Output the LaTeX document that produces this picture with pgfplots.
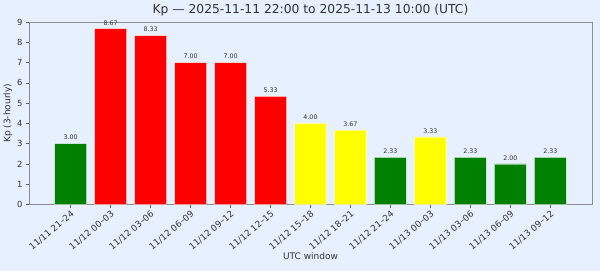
\documentclass[border=0pt]{standalone}
\usepackage{fontspec}
\setmainfont{DejaVu Sans}
\usepackage{pgfplots}
\pgfplotsset{compat=1.18}
\definecolor{bg}{RGB}{230,240,254}
\definecolor{txt}{RGB}{51,51,51}
\definecolor{kgreen}{RGB}{0,128,0}
\definecolor{kred}{RGB}{255,0,0}
\definecolor{kyellow}{RGB}{255,255,0}
\begin{document}
\begin{tikzpicture}
\fill[bg] (-29pt,-66.5pt) rectangle (571pt,204.5pt);
\path[use as bounding box] (-29pt,-66.5pt) rectangle (571pt,204.5pt);
\begin{axis}[
  scale only axis,
  width=563pt, height=182.5pt,
  xmin=-1.04, xmax=13.04,
  ymin=0, ymax=9,
  ytick={0,1,...,9},
  xtick={0,...,12},
  xticklabels={11/11 21–24,11/12 00–03,11/12 03–06,11/12 06–09,11/12 09–12,11/12 12–15,11/12 15–18,11/12 18–21,11/12 21–24,11/13 00–03,11/13 03–06,11/13 06–09,11/13 09–12},
  x tick label style={rotate=40, anchor=north east, font=\fontsize{8.8}{9}\selectfont, text=txt, inner sep=1.5pt},
  y tick label style={font=\fontsize{8.4}{9}\selectfont, text=txt},
  /pgf/number format/assume math mode=true,
  tick align=outside,
  major tick length=3pt,
  tick style={color=txt!80, line width=0.6pt},
  xtick pos=bottom, ytick pos=left,
  axis line style={color=gray!90, line width=0.9pt},
  axis background/.style={fill=bg},
  xlabel={UTC window},
  ylabel={Kp (3-hourly)},
  xlabel style={font=\fontsize{9}{10}\selectfont, text=txt, at={(axis description cs:0.5,0)}, anchor=north, yshift=-45pt},
  ylabel style={font=\fontsize{9}{10}\selectfont, text=txt, yshift=-2pt},
  title={Kp — 2025-11-11 22:00 to 2025-11-13 10:00 (UTC)},
  title style={font=\fontsize{12.3}{14}\selectfont, text=txt, yshift=-4pt},
  ybar, bar width=0.8, bar shift=0pt,
  nodes near coords,
  nodes near coords style={font=\fontsize{6.3}{7}\selectfont, text=txt, /pgf/number format/.cd, fixed, fixed zerofill, precision=2, assume math mode=true},
  clip=false,
]
\addplot[fill=kgreen, draw=white, draw opacity=0.5, line width=0.5pt] coordinates {(0,3.00) (8,2.33) (10,2.33) (11,2.00) (12,2.33)};
\addplot[fill=kred, draw=white, draw opacity=0.5, line width=0.5pt] coordinates {(1,8.67) (2,8.33) (3,7.00) (4,7.00) (5,5.33)};
\addplot[fill=kyellow, draw=white, draw opacity=0.5, line width=0.5pt] coordinates {(6,4.00) (7,3.67) (9,3.33)};
\end{axis}
\end{tikzpicture}
\end{document}
